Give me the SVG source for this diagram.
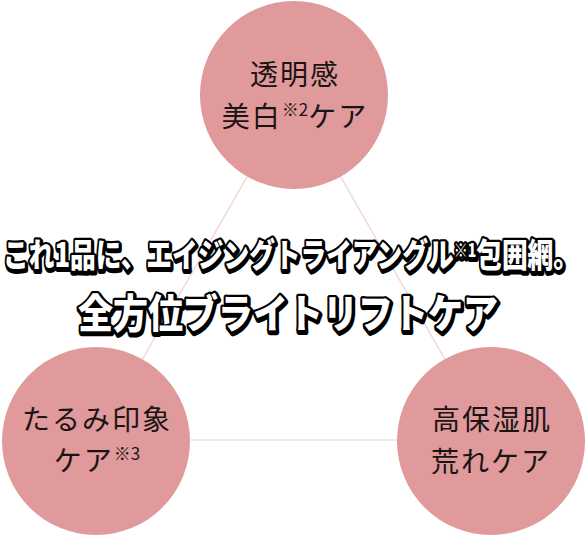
<svg xmlns="http://www.w3.org/2000/svg" xmlns:xlink="http://www.w3.org/1999/xlink" width="586" height="535" viewBox="0 0 586 535">
<style>
.circle{fill:#e09a9b;}
.conn{stroke:#f2cfd2;stroke-width:1.2;fill:none;}
.lbl{font-family:"Noto Sans CJK JP","Noto Sans",sans-serif;font-size:28px;font-weight:400;fill:#1a1414;text-anchor:middle;letter-spacing:2px;}
.sup{font-size:17px;letter-spacing:0;}
.title{font-family:"Noto Sans CJK JP","Noto Sans",sans-serif;font-weight:900;stroke-linejoin:round;}
.shadow{fill:#000;stroke:#000;stroke-width:6px;}
.front{fill:#fff;stroke:#000;stroke-width:4.5px;paint-order:stroke;}
</style>
<defs>
<text id="t1" class="title" x="3" y="267" font-size="33" textLength="576" lengthAdjust="spacingAndGlyphs">これ1品に、エイジングトライアングル<tspan font-size="18" dy="-10">※1</tspan><tspan dy="10">包囲網。</tspan></text>
<text id="t2" class="title" x="288" y="328" font-size="40" text-anchor="middle" textLength="420" lengthAdjust="spacingAndGlyphs">全方位ブライトリフトケア</text>
</defs>
<g id="connectors">
<line class="conn" x1="294" y1="95" x2="96" y2="440"/>
<line class="conn" x1="294" y1="95" x2="491" y2="440"/>
<line class="conn" x1="96" y1="440" x2="491" y2="440"/>
</g>
<g id="node-top">
<circle class="circle" cx="294" cy="95" r="94"/>
<text class="lbl" x="295" y="85">透明感</text>
<text class="lbl" x="295" y="127">美白<tspan class="sup" dy="-11">※2</tspan><tspan dy="11">ケア</tspan></text>
</g>
<g id="node-left">
<circle class="circle" cx="96" cy="441" r="94"/>
<text class="lbl" x="97" y="430">たるみ印象</text>
<text class="lbl" x="97" y="471">ケア<tspan class="sup" dy="-11">※3</tspan></text>
</g>
<g id="node-right">
<circle class="circle" cx="491" cy="441" r="94"/>
<text class="lbl" x="492" y="430">高保湿肌</text>
<text class="lbl" x="491" y="472">荒れケア</text>
</g>
<g id="title">
<use xlink:href="#t1" class="shadow" x="1" y="1.5"/>
<use xlink:href="#t1" class="front"/>
<use xlink:href="#t2" class="shadow" x="1" y="1.5"/>
<use xlink:href="#t2" class="front"/>
</g>
</svg>
